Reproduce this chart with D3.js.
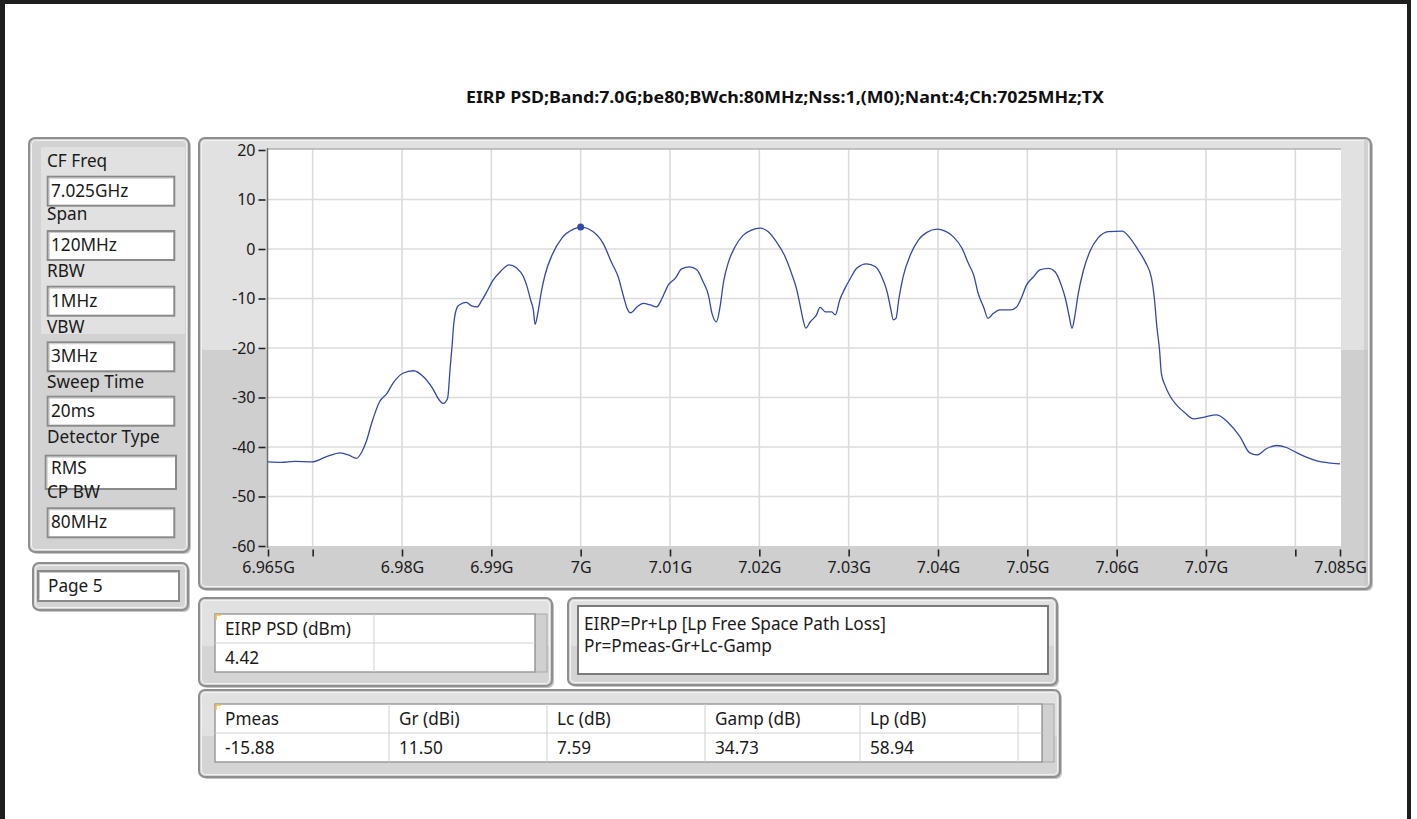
<!DOCTYPE html>
<html><head><meta charset="utf-8">
<script src="https://cdn.jsdelivr.net/npm/d3@7"></script>
<style>
body{margin:0;background:#fff;}
svg{display:block;font-family:"Noto Sans","Open Sans",sans-serif;}
</style></head>
<body><svg id="c" width="1417" height="819"></svg>
<script>
// ---------------- data ----------------
const titleText = "EIRP PSD;Band:7.0G;be80;BWch:80MHz;Nss:1,(M0);Nant:4;Ch:7025MHz;TX";
const freqMHz = [6965.0,6966.5,6968.0,6969.9,6971.5,6973.1,6974.0,6974.9,6975.5,6976.0,6976.6,6977.5,6978.3,6979.0,6980.1,6981.3,6982.4,6983.3,6984.3,6984.6,6985.1,6985.4,6985.6,6985.8,6986.2,6986.5,6987.2,6987.8,6988.4,6988.9,6989.5,6990.2,6991.0,6992.0,6992.8,6993.6,6994.0,6994.4,6994.7,6994.9,6995.2,6995.6,6996.0,6996.8,6997.9,6999.2,7000.0,7001.4,7002.5,7003.5,7004.2,7004.8,7005.2,7005.6,7006.3,7007.0,7007.8,7008.5,7009.1,7009.8,7010.6,7011.3,7012.2,7013.0,7013.7,7014.3,7014.7,7015.2,7015.6,7016.0,7016.5,7017.3,7018.2,7019.1,7020.1,7021.0,7021.9,7022.9,7023.6,7024.2,7024.6,7024.9,7025.2,7025.7,7026.4,7026.8,7027.4,7028.1,7028.5,7029.0,7029.6,7030.2,7030.9,7032.0,7033.0,7033.7,7034.3,7034.7,7035.0,7035.3,7035.6,7036.1,7036.9,7037.8,7038.7,7039.9,7040.8,7041.7,7042.7,7043.4,7044.0,7044.5,7045.1,7045.6,7046.2,7046.9,7048.1,7048.8,7049.4,7049.9,7050.7,7051.4,7052.4,7053.1,7053.8,7054.3,7054.7,7055.0,7055.3,7055.7,7056.3,7057.0,7057.9,7059.1,7060.6,7061.5,7062.4,7063.2,7063.9,7064.2,7064.5,7064.8,7065.0,7065.4,7066.0,7066.7,7067.7,7068.6,7069.7,7071.2,7072.5,7073.8,7074.9,7075.7,7076.8,7077.9,7079.0,7080.2,7081.3,7082.4,7083.7,7085.0];
const psdDbm = [-43.0,-43.1,-42.9,-43.0,-42.0,-41.2,-41.6,-42.3,-41.0,-38.9,-35.2,-30.8,-29.2,-27.1,-25.1,-24.6,-25.8,-27.8,-30.8,-31.2,-30.2,-23.8,-19.7,-15.0,-11.7,-11.2,-10.8,-11.5,-11.7,-10.5,-8.6,-6.3,-4.6,-3.2,-3.8,-5.6,-7.6,-10.3,-12.3,-15.2,-13.0,-8.6,-5.3,-1.2,2.2,4.0,4.42,3.5,1.2,-2.9,-5.6,-9.6,-12.0,-12.9,-11.7,-11.0,-11.3,-11.7,-10.0,-7.3,-5.9,-4.0,-3.6,-4.2,-6.6,-9.3,-13.0,-14.7,-11.7,-6.6,-2.9,0.5,2.8,3.8,4.2,3.5,1.5,-1.6,-4.9,-8.3,-11.7,-14.3,-16.0,-14.7,-13.3,-11.8,-12.7,-12.7,-13.3,-10.3,-7.9,-5.9,-3.9,-3.0,-3.6,-5.6,-8.6,-12.0,-14.3,-14.0,-10.3,-5.6,-1.2,1.8,3.3,4.0,3.6,2.5,0.1,-2.9,-5.3,-9.0,-11.7,-14.0,-13.0,-12.3,-12.3,-11.7,-9.6,-7.3,-5.6,-4.2,-3.9,-4.6,-7.3,-10.3,-13.7,-16.0,-13.7,-9.0,-4.2,-0.5,2.2,3.5,3.6,2.2,-0.2,-2.6,-5.9,-9.6,-15.7,-20.4,-25.1,-27.5,-29.8,-31.5,-33.2,-34.3,-34.0,-33.5,-35.1,-37.9,-41.2,-41.6,-40.3,-39.7,-40.1,-41.2,-42.1,-42.8,-43.2,-43.4];
const markerFreq = [7000.0];
const markerValue = [4.42];
const yTicks = [20,10,0,-10,-20,-30,-40,-50,-60];
const xTicks = [6965,6970,6980,6990,7000,7010,7020,7030,7040,7050,7060,7070,7080,7085];
const xTickLabels = ["6.965G","","6.98G","6.99G","7G","7.01G","7.02G","7.03G","7.04G","7.05G","7.06G","7.07G","","7.085G"];
const xGrid = [6970,6980,6990,7000,7010,7020,7030,7040,7050,7060,7070,7080];
const yGrid = [10,0,-10,-20,-30,-40,-50];
const settingLabels = ["CF Freq","Span","RBW","VBW","Sweep Time","Detector Type","CP BW"];
const settingValues = ["7.025GHz","120MHz","1MHz","3MHz","20ms","RMS","80MHz"];
const pageLabel = "Page 5";
const eirpHeader = ["EIRP PSD (dBm)",""];
const eirpValues = ["4.42",""];
const formulaLines = ["EIRP=Pr+Lp [Lp Free Space Path Loss]","Pr=Pmeas-Gr+Lc-Gamp"];
const paramHeaders = ["Pmeas","Gr (dBi)","Lc (dB)","Gamp (dB)","Lp (dB)",""];
const paramValues = ["-15.88","11.50","7.59","34.73","58.94",""];

// ---------------- drawing ----------------
const svg = d3.select("#c");
const FS = 17.2;   // label text
const FA = 16;     // axis numbers
const TXT = "#1a1a1a";

// black frame
svg.append("rect").attr("x",0).attr("y",0).attr("width",1411).attr("height",4).attr("fill","#1e1e1e");
svg.append("rect").attr("x",0).attr("y",0).attr("width",5).attr("height",819).attr("fill","#1e1e1e");
svg.append("rect").attr("x",1407).attr("y",0).attr("width",4).attr("height",819).attr("fill","#1e1e1e");

// title
svg.append("text").attr("x",466).attr("y",103).attr("font-weight","bold").attr("font-size",16.5)
  .attr("textLength",638).attr("lengthAdjust","spacingAndGlyphs").attr("fill","#111").text(titleText);

function panel(x,y,w,h,fill,lightH){
  svg.append("rect").attr("x",x+2).attr("y",y+2).attr("width",w).attr("height",h).attr("rx",6)
    .attr("fill","#c4c4c4");
  svg.append("rect").attr("x",x).attr("y",y).attr("width",w).attr("height",h).attr("rx",6)
    .attr("fill",fill||"#d3d3d3");
  if(lightH) svg.append("rect").attr("x",x+2).attr("y",y+2).attr("width",w-4).attr("height",lightH).attr("rx",4)
    .attr("fill","#e1e1e1");
  svg.append("rect").attr("x",x).attr("y",y).attr("width",w).attr("height",h).attr("rx",6)
    .attr("fill","none").attr("stroke","#8e8e8e").attr("stroke-width",2);
  svg.append("rect").attr("x",x+2.5).attr("y",y+2.5).attr("width",w-5).attr("height",h-5).attr("rx",4)
    .attr("fill","none").attr("stroke","#f2f2f2").attr("stroke-width",1);
}
function box(x,y,w,h){
  svg.append("rect").attr("x",x).attr("y",y).attr("width",w).attr("height",h)
    .attr("fill","#fff").attr("stroke","#8a8a8a").attr("stroke-width",2);
  svg.append("path").attr("d",`M${x+1.5},${y+h-1.5}V${y+1.5}H${x+w-1.5}`)
    .attr("fill","none").attr("stroke","#c8c8c8").attr("stroke-width",1);
}

// ---- left settings panel ----
panel(29,138,160,414,"#d2d2d2",0);
svg.append("rect").attr("x",41).attr("y",147).attr("width",144).attr("height",187).attr("fill","#e1e1e1");
const boxTops = [176.7,231,286.7,342.3,396.7,455.7,508.3];
const labelBase = [167,219.5,277,333,388,443,497.5];
settingValues.forEach((v,i)=>{
  const wide = i===5;
  const bx = wide?45.7:47.7, bw = wide?130.3:126.6, bh = wide?33.3:29;
  box(bx,boxTops[i],bw,bh);
  svg.append("text").attr("x",51).attr("y",boxTops[i]+(wide?18.5:20)).attr("font-size",FS).attr("fill",TXT).text(v);
});
settingLabels.forEach((l,i)=>{
  svg.append("text").attr("x",47).attr("y",labelBase[i]).attr("font-size",FS).attr("fill",TXT).text(l);
});

// page panel
panel(33,563,155,47,"#d4d4d4",0);
box(38,571,141,30);
svg.append("text").attr("x",48).attr("y",592).attr("font-size",FS).attr("fill",TXT).text(pageLabel);

// ---- chart panel ----
panel(199,138,1172,451,"#cfcfcf",210);
svg.append("rect").attr("x",1364).attr("y",140).attr("width",4).attr("height",446).attr("fill","#c2c2c2").attr("opacity",0.5);

const x = d3.scaleLinear().domain([6965,7085]).range([268,1340]);
const y = d3.scaleLinear().domain([-60,20]).range([546,150]);

const plot = svg.append("g");
plot.append("rect").attr("x",268).attr("y",149).attr("width",1073).attr("height",397).attr("fill","#fff");
plot.selectAll(".vg").data(xGrid).join("line").attr("x1",d=>x(d)).attr("x2",d=>x(d))
  .attr("y1",149).attr("y2",546).attr("stroke","#dcdcdc").attr("stroke-width",1.6);
plot.selectAll(".hg").data(yGrid).join("line").attr("y1",d=>y(d)).attr("y2",d=>y(d))
  .attr("x1",268).attr("x2",1341).attr("stroke","#dcdcdc").attr("stroke-width",1.6);
plot.append("line").attr("x1",268).attr("x2",1341).attr("y1",149).attr("y2",149).attr("stroke","#b0b0b0").attr("stroke-width",1.5);
plot.append("line").attr("x1",267.5).attr("x2",267.5).attr("y1",148).attr("y2",548).attr("stroke","#6e6e6e").attr("stroke-width",1.5);

// y axis
const yAxis = d3.axisLeft(y).tickValues(yTicks).tickSize(7).tickPadding(3).tickFormat(d=>d);
const gy = svg.append("g").attr("transform","translate(265.5,0)").call(yAxis);
gy.select(".domain").remove();
gy.selectAll("line").attr("stroke","#222").attr("stroke-width",1.6);
gy.selectAll("text").attr("font-size",FA).attr("fill",TXT).attr("font-family",'"Noto Sans",sans-serif');

// x axis
const xAxis = d3.axisBottom(x).tickValues(xTicks).tickSize(7).tickPadding(5)
  .tickFormat((d,i)=>xTickLabels[i]);
const gx = svg.append("g").attr("transform","translate(0,549.5)").call(xAxis);
gx.select(".domain").remove();
gx.selectAll("line").attr("stroke","#222").attr("stroke-width",1.6);
gx.selectAll("text").attr("font-size",FA).attr("fill",TXT).attr("font-family",'"Noto Sans",sans-serif');

// trace
const pts = freqMHz.map((f,i)=>[f,psdDbm[i]]);
const line = d3.line().x(d=>x(d[0])).y(d=>y(d[1])).curve(d3.curveMonotoneX);
plot.append("path").attr("d",line(pts)).attr("fill","none").attr("stroke","#3548a6").attr("stroke-width",1.3);
plot.selectAll(".mk").data(markerFreq).join("circle").attr("cx",d=>x(d)).attr("cy",(d,i)=>y(markerValue[i]))
  .attr("r",3.5).attr("fill","#3548a6");

// ---- bottom panels ----
function table(x0,y0,cols,h1,h2,headers,values){
  const w = cols[cols.length-1]-x0;
  svg.append("rect").attr("x",x0).attr("y",y0).attr("width",w).attr("height",h1+h2).attr("fill","#fff")
    .attr("stroke","#9a9a9a").attr("stroke-width",1.5);
  svg.append("line").attr("x1",x0).attr("x2",x0+w).attr("y1",y0+h1).attr("y2",y0+h1).attr("stroke","#d0d0d0");
  cols.slice(1,-1).forEach(c=>svg.append("line").attr("x1",c).attr("x2",c).attr("y1",y0).attr("y2",y0+h1+h2).attr("stroke","#d0d0d0"));
  svg.append("path").attr("d",`M${x0+1},${y0+6}V${y0+1}H${x0+6}`).attr("fill","none").attr("stroke","#f0c040").attr("stroke-width",1.5);
  headers.forEach((t,i)=>svg.append("text").attr("x",cols[i]+10).attr("y",y0+h1-8).attr("font-size",FS).attr("fill",TXT).text(t));
  values.forEach((t,i)=>svg.append("text").attr("x",cols[i]+10).attr("y",y0+h1+h2-8).attr("font-size",FS).attr("fill",TXT).text(t));
}

panel(199,598,353,88,"#d4d4d4",46);
svg.append("rect").attr("x",535).attr("y",614).attr("width",12).attr("height",58).attr("fill","#d0d0d0").attr("stroke","#a8a8a8");
table(215,614,[215,374,535],29,29,eirpHeader,eirpValues);

panel(568,598,489,87,"#d4d4d4",46);
svg.append("rect").attr("x",578).attr("y",606).attr("width",470).attr("height",68).attr("fill","#fff")
  .attr("stroke","#7a7a7a").attr("stroke-width",2);
formulaLines.forEach((t,i)=>svg.append("text").attr("x",584).attr("y",630+i*22).attr("font-size",FS).attr("fill",TXT).text(t));

panel(199,690,861,87,"#d4d4d4",44);
svg.append("rect").attr("x",1042).attr("y",704).attr("width",12).attr("height",58).attr("fill","#d0d0d0").attr("stroke","#a8a8a8");
table(215,704,[215,389,547,705,860,1018,1042],29,29,paramHeaders,paramValues);
</script>
</body></html>
